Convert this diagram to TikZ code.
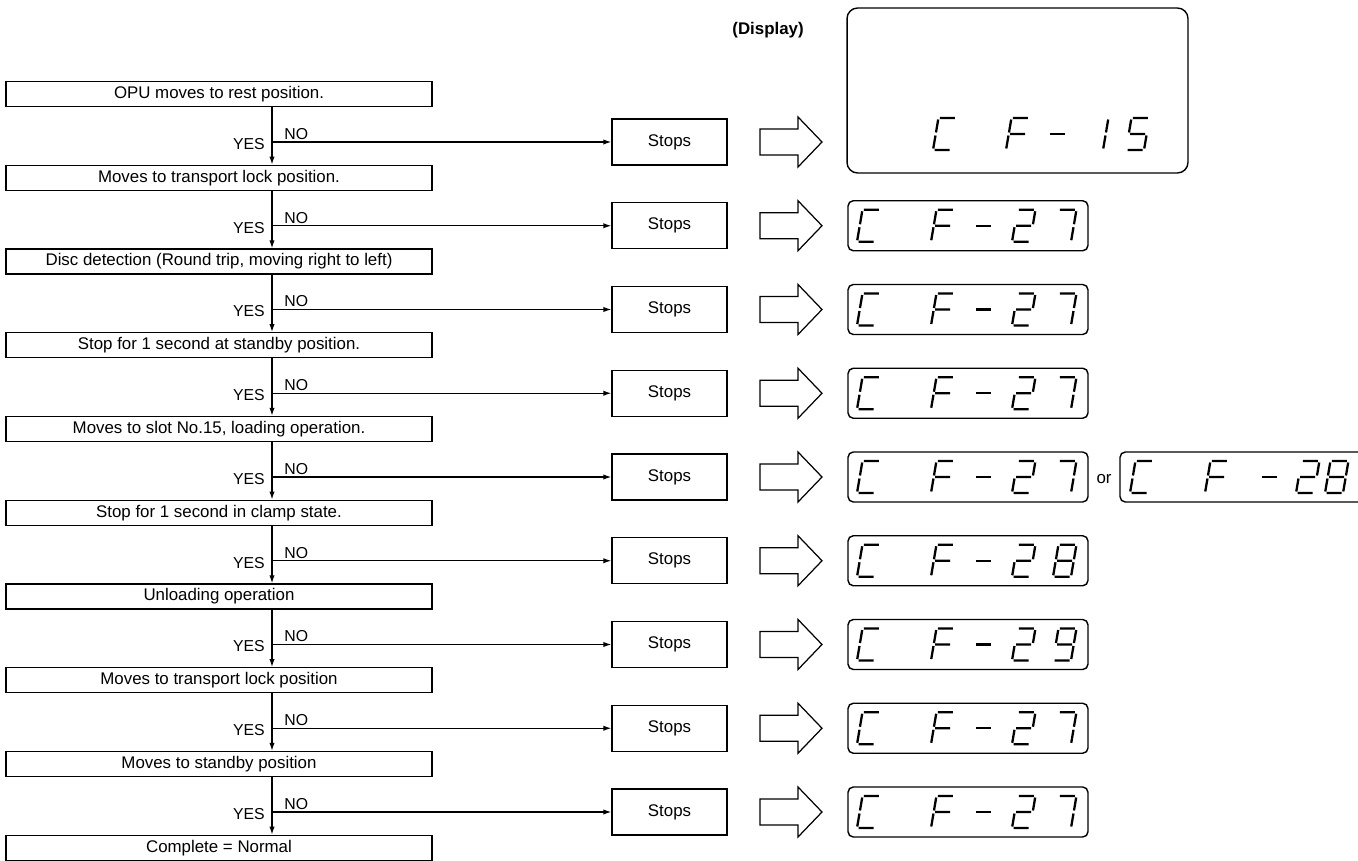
\documentclass[tikz,border=0pt]{standalone}
\usepackage{fontspec}
\setmainfont{Liberation Sans}
\usetikzlibrary{arrows.meta}
\newcommand\sgA{(1.5,-32)--(16.5,-32)}
\newcommand\sgB{(18,-30.5)--(18,-17.5)}
\newcommand\sgC{(18,-14.5)--(18,-1.5)}
\newcommand\sgD{(1.5,0)--(16.5,0)}
\newcommand\sgE{(0,-1.5)--(0,-14.5)}
\newcommand\sgF{(0,-17.5)--(0,-30.5)}
\newcommand\sgG{(1.5,-16)--(16.5,-16)}
\newcommand\chC{\sgA\sgD\sgE\sgF}
\newcommand\chF{\sgA\sgE\sgF\sgG}
\newcommand\chM{\sgG}
\newcommand\chI{\sgB\sgC}
\newcommand\chII{\sgA\sgB\sgG\sgE\sgD}
\newcommand\chV{\sgA\sgF\sgG\sgC\sgD}
\newcommand\chVII{\sgA\sgB\sgC}
\newcommand\chVIII{\sgA\sgB\sgC\sgD\sgE\sgF\sgG}
\newcommand\chIX{\sgA\sgB\sgC\sgD\sgF\sgG}
\newcommand\dig[3]{\draw[segline,shift={(#1,{#2})},xslant=0.17] #3;}
\newcommand\smalldisp[3]{%
  \node[disp] (#1) at (968,#2) {};
  \dig{857}{#2+16}{\chC}\dig{931}{#2+16}{\chF}\dig{972}{#2+16}{\chM}%
  \dig{1012}{#2+16}{\chII}\dig{1053}{#2+16}{#3}}
\begin{document}
\begin{tikzpicture}[x=0.02cm,y=-0.02cm,
  every node/.style={font=\fontsize{9.6}{11}\selectfont},
  stepbox/.style={draw,line width=0.8pt,minimum width=8.52cm,minimum height=0.5cm,inner sep=0pt},
  stopbox/.style={draw,line width=0.8pt,minimum width=2.3cm,minimum height=0.92cm,inner sep=0pt},
  disp/.style={draw,line width=0.8pt,rounded corners=3pt,minimum width=4.8cm,minimum height=1cm,inner sep=0pt},
  conn/.style={line width=0.7pt,-{Latex[length=4.5pt,width=3pt]}},
  lbl/.style={inner sep=0pt,font=\fontsize{9}{10}\selectfont},
  segline/.style={line width=1.3pt},
  hollow/.style={draw,line width=0.7pt,line join=miter}]
\useasboundingbox (0,0) rectangle (1358,861);
\clip (0,0) rectangle (1358,861);
% process boxes
\foreach \i/\t in {1/OPU moves to rest position.,
  2/Moves to transport lock position.,
  3/{Disc detection (Round trip, moving right to left)},
  4/Stop for 1 second at standby position.,
  5/{Moves to slot No.15, loading operation.},
  6/Stop for 1 second in clamp state.,
  7/Unloading operation,
  8/Moves to transport lock position,
  9/Moves to standby position,
  10/Complete = Normal}
  \node[stepbox] (b\i) at (219,{94+83.75*(\i-1)}) {\t};
% rows
\foreach \i in {1,...,9}{
  \pgfmathsetmacro\Y{142+83.75*(\i-1)}
  \coordinate (j\i) at (272,\Y);
  \node[stopbox] (s\i) at (669.5,\Y) {Stops};
  \node[lbl,anchor=east] (yes\i) at (265,{\Y+2}) {YES};
  \node[lbl,anchor=south west] (no\i) at (284,{\Y-2}) {NO};
  \draw[conn] (j\i) -- (s\i.west);
  \draw[hollow] (760,{\Y-13}) -- (798,{\Y-13}) -- (798,{\Y-25}) -- (822,\Y)
     -- (798,{\Y+25}) -- (798,{\Y+13}) -- (760,{\Y+13}) -- cycle;
}
\foreach \i [evaluate=\i as \n using int(\i+1)] in {1,...,9}
  \draw[conn] (b\i.south -| j\i) -- (b\n.north -| j\i);
% displays
\node[font=\bfseries\fontsize{9.6}{11}\selectfont] (lab) at (768,30) {(Display)};
\node[disp,rounded corners=6pt,minimum width=6.82cm,minimum height=3.3cm] (d1) at (1017.5,90.5) {};
\dig{933}{150}{\chC}\dig{1006}{150}{\chF}\dig{1046}{150}{\chM}\dig{1085}{150}{\chI}\dig{1126}{150}{\chV}
\smalldisp{d2}{225.75}{\chVII}
\smalldisp{d3}{309.5}{\chVII}
\smalldisp{d4}{393.25}{\chVII}
\smalldisp{d5}{477}{\chVII}
\smalldisp{d6}{560.75}{\chVIII}
\smalldisp{d7}{644.5}{\chIX}
\smalldisp{d8}{728.25}{\chVII}
\smalldisp{d9}{812}{\chVII}
\node (or) at (1104,479) {or};
\node[disp,minimum width=5.2cm] (d5b) at (1250,477) {};
\dig{1130}{493}{\chC}\dig{1205}{493}{\chF}\dig{1258}{493}{\chM}\dig{1296}{493}{\chII}\dig{1325}{493}{\chVIII}
\end{tikzpicture}
\end{document}
